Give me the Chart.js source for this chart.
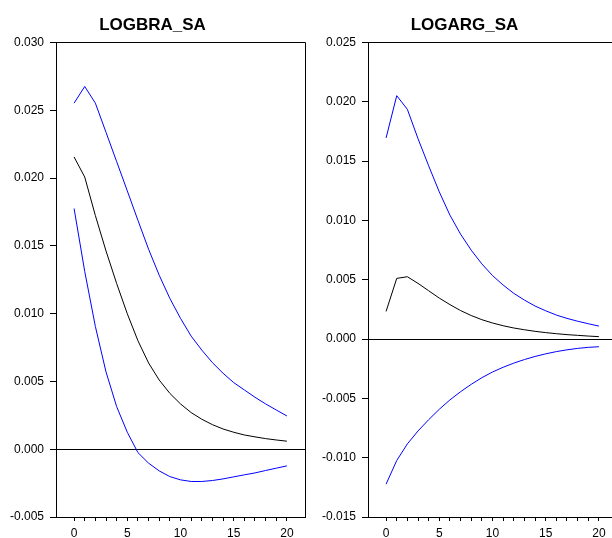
<!DOCTYPE html>
<html>
<head>
<meta charset="utf-8">
<script src="https://cdn.jsdelivr.net/npm/chart.js@4.4.1/dist/chart.umd.min.js"></script>
<style>
  html, body { margin: 0; padding: 0; overflow: hidden; background: #fff; width: 612px; height: 538px; }
  canvas { position: absolute; top: 0; }
  #bra { left: 0; }
  #arg { left: 312px; }
</style>
</head>
<body>
<canvas id="bra" width="314" height="538"></canvas>
<canvas id="arg" width="314" height="538"></canvas>
<script>
const periods = [0,1,2,3,4,5,6,7,8,9,10,11,12,13,14,15,16,17,18,19,20];

// response of LOGBRA_SA with +/- 2 s.e. bands
const braResp  = [0.02155,0.02007,0.01723,0.01462,0.01222,0.00999,0.00800,0.00636,0.00510,0.00412,0.00334,0.00270,0.00221,0.00181,0.00149,0.00125,0.00105,0.00091,0.00078,0.00068,0.00059];
const braUpper = [0.02552,0.02675,0.02552,0.02337,0.02121,0.01905,0.01688,0.01475,0.01283,0.01112,0.00965,0.00834,0.00731,0.00638,0.00560,0.00491,0.00437,0.00383,0.00334,0.00289,0.00245];
const braLower = [0.01775,0.01311,0.00905,0.00570,0.00314,0.00125,-0.00025,-0.00103,-0.00160,-0.00202,-0.00226,-0.00238,-0.00238,-0.00231,-0.00219,-0.00204,-0.00189,-0.00175,-0.00157,-0.00140,-0.00123];

// response of LOGARG_SA with +/- 2 s.e. bands
const argResp  = [0.00233,0.00511,0.00525,0.00469,0.00407,0.00345,0.00290,0.00240,0.00198,0.00163,0.00135,0.00112,0.00093,0.00078,0.00065,0.00054,0.00045,0.00037,0.00031,0.00025,0.00020];
const argUpper = [0.01695,0.02051,0.01936,0.01689,0.01460,0.01240,0.01044,0.00884,0.00749,0.00633,0.00535,0.00455,0.00385,0.00328,0.00278,0.00238,0.00202,0.00174,0.00150,0.00129,0.00109];
const argLower = [-0.01223,-0.01024,-0.00884,-0.00775,-0.00680,-0.00592,-0.00513,-0.00444,-0.00382,-0.00326,-0.00278,-0.00238,-0.00203,-0.00173,-0.00147,-0.00125,-0.00106,-0.00091,-0.00079,-0.00070,-0.00065];

const xTicks = [0,1,2,3,4,5,6,7,8,9,10,11,12,13,14,15,16,17,18,19,20];
const braRange = [-0.005, 0.030];
const argRange = [-0.015, 0.025];

const FONT = "'Liberation Sans', Arial, sans-serif";

const pts = (ys) => ys.map((y, i) => ({ x: periods[i], y: y }));

// top and right edges of the plot box
const boxPlugin = {
  id: 'box',
  afterDraw(chart) {
    const { ctx, chartArea: a } = chart;
    const al = (p) => Math.round(p - 0.5) + 0.5;
    ctx.save();
    ctx.strokeStyle = '#000';
    ctx.lineWidth = 1;
    ctx.beginPath();
    ctx.moveTo(al(a.left), al(a.top));
    ctx.lineTo(al(a.right), al(a.top));
    ctx.lineTo(al(a.right), al(a.bottom));
    ctx.stroke();
    ctx.restore();
  }
};

function makeChart(id, title, resp, upper, lower, range) {
  return new Chart(document.getElementById(id), {
    type: 'line',
    data: {
      datasets: [
        { data: pts(upper), borderColor: '#0000ff', borderWidth: 1, pointRadius: 0, tension: 0 },
        { data: pts(lower), borderColor: '#0000ff', borderWidth: 1, pointRadius: 0, tension: 0 },
        { data: pts(resp),  borderColor: '#000000', borderWidth: 1, pointRadius: 0, tension: 0 }
      ]
    },
    options: {
      responsive: false,
      animation: false,
      layout: { padding: { left: 0, right: 9, top: 0, bottom: 0 } },
      plugins: {
        legend: { display: false },
        tooltip: { enabled: false },
        title: {
          display: true,
          text: title,
          color: '#000',
          font: { family: FONT, size: 17, weight: 'bold' },
          padding: { top: 15, bottom: 7 }
        }
      },
      scales: {
        x: {
          type: 'linear',
          min: -1.7,
          max: 21.7,
          afterBuildTicks: (s) => { s.ticks = xTicks.map(v => ({ value: v })); },
          afterFit: (s) => { s.height = 21; },
          ticks: {
            autoSkip: false,
            maxRotation: 0,
            padding: 5,
            color: '#000',
            font: { family: FONT, size: 12 },
            callback: (v) => (v % 5 === 0 ? String(v) : '')
          },
          grid: { drawOnChartArea: false, tickLength: 4, color: '#000' },
          border: { color: '#000', width: 1 }
        },
        y: {
          min: range[0],
          max: range[1],
          afterFit: (s) => { s.width = 56; },
          ticks: {
            stepSize: 0.005,
            padding: 6,
            color: '#000',
            font: { family: FONT, size: 12 },
            callback: (v) => (Math.abs(v) < 1e-9 ? '0.000' : v.toFixed(3))
          },
          grid: {
            tickLength: 6,
            drawOnChartArea: true,
            color: (c) => (c.tick && Math.abs(c.tick.value) < 1e-9 ? '#000' : 'rgba(0,0,0,0)'),
            tickColor: '#000'
          },
          border: { color: '#000', width: 1 }
        }
      }
    },
    plugins: [boxPlugin]
  });
}

makeChart('bra', 'LOGBRA_SA', braResp, braUpper, braLower, braRange);
makeChart('arg', 'LOGARG_SA', argResp, argUpper, argLower, argRange);
</script>
</body>
</html>
